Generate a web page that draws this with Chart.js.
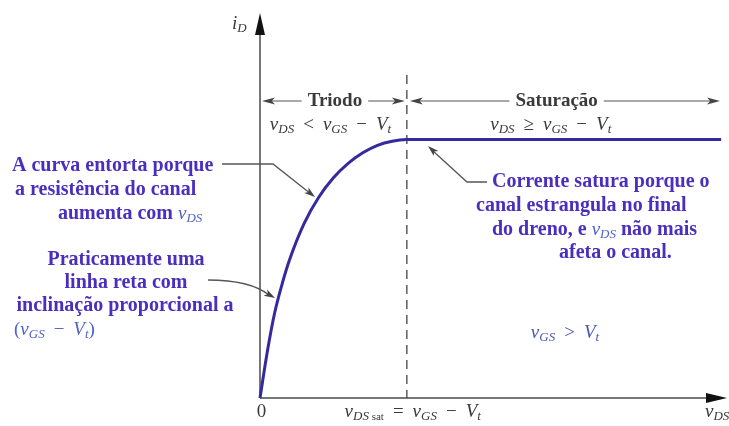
<!DOCTYPE html>
<html>
<head>
<meta charset="utf-8">
<script src="https://cdn.jsdelivr.net/npm/chart.js@4/dist/chart.umd.min.js"></script>
<style>
  html, body { margin: 0; padding: 0; background: #fff; }
</style>
</head>
<body>
<canvas id="chart" width="729" height="426"></canvas>
<script>
/* Data: i_D vs v_DS (v_DS in units of v_DSsat, i_D in units of saturation current) */
const vds = [0, 0.05, 0.1, 0.15, 0.2, 0.3, 0.4, 0.5, 0.6, 0.7, 0.8, 0.9, 1.0, 3.14];
const iD  = [0, 0.18, 0.33, 0.44, 0.533, 0.675, 0.777, 0.852, 0.908, 0.949, 0.978, 0.994, 1.0, 1.0];
const vdsSat = 1.0;
const xMax = 3.18;
const yMax = 1.49;

const regionNames = ["Triodo", "Saturação"];
const regionCenters = [0.51, 2.02];
const regionConds = [
	[["v","m"],["DS","s"],[9],["<","n"],[9],["v","m"],["GS","s"],[9],["−","n"],[9],["V","m"],["t","s"]],
	[["v","m"],["DS","s"],[9],["≥","n"],[9],["v","m"],["GS","s"],[9],["−","n"],[9],["V","m"],["t","s"]]
];
const condCenters = [0.48, 1.98];

const xTickLabels = [
	[["0","n"]],
	[["v","m"],["DS","s"],[" sat","ss"],[9],["=","n"],[9],["v","m"],["GS","s"],[9],["−","n"],[9],["V","m"],["t","s"]]
];
const xTickValues = [0.01, 1.04];

const PURPLE = "#4a2fbf";
const MATHBLUE = "#5063c8";
const GRAY = "#3a3a3a";
const SERIF = '"Liberation Serif", "DejaVu Serif", serif';

const fonts = {
	b:  {font: "bold 20px " + SERIF, dy: 0},
	m:  {font: "italic 19px " + SERIF, dy: 0},
	s:  {font: "italic 13px " + SERIF, dy: 5},
	ss: {font: "11px " + SERIF, dy: 5},
	n:  {font: "19px " + SERIF, dy: 0},
	h:  {font: "bold 19px " + SERIF, dy: 0}
};

function richWidth(ctx, parts) {
	var w = 0;
	parts.forEach(function(p) {
		if (typeof p[0] === "number") { w += p[0]; return; }
		ctx.font = fonts[p[1]].font;
		w += ctx.measureText(p[0]).width;
	});
	return w;
}

// parts: [text, style, colour?] or [gap]
function drawRich(ctx, parts, x, y, align, color) {
	var w = richWidth(ctx, parts);
	var cx = x;
	if (align === "center") cx = x - w / 2;
	if (align === "right") cx = x - w;
	ctx.textBaseline = "middle";
	ctx.textAlign = "left";
	parts.forEach(function(p) {
		if (typeof p[0] === "number") { cx += p[0]; return; }
		var f = fonts[p[1]];
		ctx.font = f.font;
		ctx.fillStyle = p[2] || color;
		ctx.fillText(p[0], cx, y + f.dy);
		cx += ctx.measureText(p[0]).width;
	});
	return w;
}

function arrowHead(ctx, x1, y1, x2, y2, len, hw, color) {
	var a = Math.atan2(y2 - y1, x2 - x1);
	ctx.save();
	ctx.fillStyle = color;
	ctx.translate(x2, y2);
	ctx.rotate(a);
	ctx.beginPath();
	ctx.moveTo(0, 0);
	ctx.lineTo(-len, -hw);
	ctx.lineTo(-len * 0.75, 0);
	ctx.lineTo(-len, hw);
	ctx.closePath();
	ctx.fill();
	ctx.restore();
}

function line(ctx, pts, color, width) {
	ctx.save();
	ctx.strokeStyle = color;
	ctx.lineWidth = width;
	ctx.beginPath();
	ctx.moveTo(pts[0][0], pts[0][1]);
	for (var i = 1; i < pts.length; i++) ctx.lineTo(pts[i][0], pts[i][1]);
	ctx.stroke();
	ctx.restore();
}

/* axes, dashed line, region bars */
const axesPlugin = {
	id: "axesPlugin",
	beforeDatasetsDraw(chart) {
		var ctx = chart.ctx;
		var xs = chart.scales.x, ys = chart.scales.y;
		var x0 = xs.getPixelForValue(0), y0 = ys.getPixelForValue(0);
		var xr = xs.getPixelForValue(xMax), yt = ys.getPixelForValue(yMax);

		// axes
		line(ctx, [[x0, y0], [x0, yt + 14]], "#777", 2);
		line(ctx, [[x0, y0], [xr - 14, y0]], "#777", 2);
		ctx.save();
		ctx.fillStyle = "#111";
		ctx.beginPath();
		ctx.moveTo(x0, yt); ctx.lineTo(x0 - 5, yt + 22); ctx.lineTo(x0 + 5, yt + 22);
		ctx.closePath(); ctx.fill();
		ctx.beginPath();
		ctx.moveTo(xr, y0); ctx.lineTo(xr - 21, y0 - 5); ctx.lineTo(xr - 21, y0 + 5);
		ctx.closePath(); ctx.fill();
		ctx.restore();

		// dashed boundary at v_DSsat
		var xs1 = xs.getPixelForValue(vdsSat);
		ctx.save();
		ctx.strokeStyle = "#444";
		ctx.lineWidth = 1.3;
		ctx.setLineDash([9, 6]);
		ctx.beginPath();
		ctx.moveTo(xs1, 75);
		ctx.lineTo(xs1, y0);
		ctx.stroke();
		ctx.restore();
	},
	afterDatasetsDraw(chart) {
		var ctx = chart.ctx;
		var xs = chart.scales.x, ys = chart.scales.y;
		var x0 = xs.getPixelForValue(0), y0 = ys.getPixelForValue(0);
		var xsat = xs.getPixelForValue(vdsSat);
		var xend = xs.getPixelForValue(xMax);

		// i_D label
		drawRich(ctx, [["i","m"],["D","s"]], x0 - 28, 24, "left", GRAY);

		// region bars
		var rowY = 101;
		var bounds = [[x0 + 2, xsat - 2], [xsat + 3, xend - 7]];
		regionNames.forEach(function(name, i) {
			var c = xs.getPixelForValue(regionCenters[i]);
			var w = drawRich(ctx, [[name, "h"]], c, rowY, "center", GRAY);
			var l = c - w / 2 - 6, r = c + w / 2 + 6;
			line(ctx, [[l, rowY], [bounds[i][0] + 4, rowY]], "#555", 1.2);
			arrowHead(ctx, l, rowY, bounds[i][0], rowY, 13, 3.5, "#444");
			line(ctx, [[r, rowY], [bounds[i][1] - 4, rowY]], "#555", 1.2);
			arrowHead(ctx, r, rowY, bounds[i][1], rowY, 13, 3.5, "#444");
			drawRich(ctx, regionConds[i], xs.getPixelForValue(condCenters[i]), 125, "center", GRAY);
		});

		// x tick labels
		xTickLabels.forEach(function(parts, i) {
			drawRich(ctx, parts, xs.getPixelForValue(xTickValues[i]), 412, "center", GRAY);
		});
		drawRich(ctx, [["v","m"],["DS","s"]], xend - 22, 412, "left", GRAY);

		// annotation 1
		drawRich(ctx, [["A curva entorta porque","b"]], 12, 166, "left", PURPLE);
		drawRich(ctx, [["a resistência do canal","b"]], 15, 190, "left", PURPLE);
		drawRich(ctx, [["aumenta com ","b"],["v","m",MATHBLUE],["DS","s",MATHBLUE]], 58, 214, "left", PURPLE);
		line(ctx, [[222, 164], [273, 164], [311, 194]], "#555", 1.3);
		arrowHead(ctx, 273, 164, 315, 197, 11, 3.5, "#444");

		// annotation 2
		drawRich(ctx, [["Praticamente uma","b"]], 126, 260, "center", PURPLE);
		drawRich(ctx, [["linha reta com","b"]], 126, 283, "center", PURPLE);
		drawRich(ctx, [["inclinação proporcional a","b"]], 125, 306, "center", PURPLE);
		drawRich(ctx, [["(","n"],["v","m"],["GS","s"],[9],["−","n"],[9],["V","m"],["t","s"],[")","n"]], 14, 330, "left", MATHBLUE);
		ctx.save();
		ctx.strokeStyle = "#555";
		ctx.lineWidth = 1.3;
		ctx.beginPath();
		ctx.moveTo(208, 280);
		ctx.quadraticCurveTo(250, 280, 269, 295);
		ctx.stroke();
		ctx.restore();
		arrowHead(ctx, 252, 285, 275, 298, 11, 3.5, "#444");

		// annotation 3
		drawRich(ctx, [["Corrente satura porque o","b"]], 492, 182, "left", PURPLE);
		drawRich(ctx, [["canal estrangula no final","b"]], 476, 206, "left", PURPLE);
		drawRich(ctx, [["do dreno, e ","b"],["v","m",MATHBLUE],["DS","s",MATHBLUE],[" não mais","b"]], 492, 230, "left", PURPLE);
		drawRich(ctx, [["afeta o canal.","b"]], 559, 253, "left", PURPLE);
		line(ctx, [[487, 182], [467, 182], [433, 151]], "#555", 1.3);
		arrowHead(ctx, 467, 182, 428, 146, 11, 3.5, "#444");

		// condition
		drawRich(ctx, [["v","m"],["GS","s"],[9],[">","n"],[9],["V","m"],["t","s"]], 565, 333, "center", "#4a56b8");
	}
};

new Chart(document.getElementById("chart"), {
	type: "line",
	data: {
		datasets: [{
			data: vds.map(function(x, i) { return {x: x, y: iD[i]}; }),
			borderColor: "#35299e",
			borderWidth: 3,
			pointRadius: 0,
			fill: false,
			cubicInterpolationMode: "monotone",
			clip: false
		}]
	},
	options: {
		responsive: false,
		animation: false,
		devicePixelRatio: 1,
		layout: { padding: { left: 260, right: 2, top: 13, bottom: 28 } },
		scales: {
			x: { type: "linear", min: 0, max: xMax, display: false },
			y: { type: "linear", min: 0, max: yMax, display: false }
		},
		plugins: {
			legend: { display: false },
			tooltip: { enabled: false }
		}
	},
	plugins: [axesPlugin]
});
</script>
</body>
</html>
